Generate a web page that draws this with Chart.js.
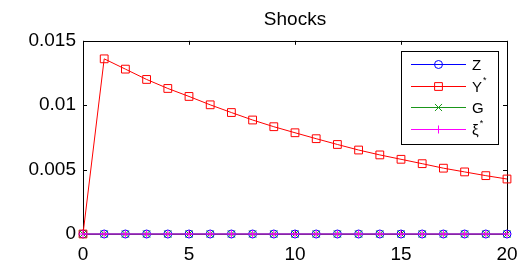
<!DOCTYPE html>
<html>
<head>
<meta charset="utf-8">
<script src="https://cdn.jsdelivr.net/npm/chart.js@4/dist/chart.umd.min.js"></script>
<style>
  html, body { margin: 0; padding: 0; background: #fff; }
  #wrap { width: 519px; height: 262px; }
</style>
</head>
<body>
<div id="wrap"><canvas id="shockChart" width="519" height="262"></canvas></div>
<script>
// periods on the x axis
const periods = [0, 1, 2, 3, 4, 5, 6, 7, 8, 9, 10, 11, 12, 13, 14, 15, 16, 17, 18, 19, 20];

// series values
const zShock    = [0, 0, 0, 0, 0, 0, 0, 0, 0, 0, 0, 0, 0, 0, 0, 0, 0, 0, 0, 0, 0];
const yStarShock = [0, 0.0136, 0.0128, 0.0120, 0.0113, 0.01068, 0.01003, 0.00943, 0.00885, 0.00833,
                    0.00786, 0.0074, 0.00695, 0.00652, 0.00614, 0.0058, 0.00546, 0.00511, 0.00482, 0.00453, 0.00427];
const gShock    = [0, 0, 0, 0, 0, 0, 0, 0, 0, 0, 0, 0, 0, 0, 0, 0, 0, 0, 0, 0, 0];
const xiStarShock = [0, 0, 0, 0, 0, 0, 0, 0, 0, 0, 0, 0, 0, 0, 0, 0, 0, 0, 0, 0, 0];

const seriesNames = ['Z', 'Y*', 'G', 'ξ*'];
const xTicks = [0, 5, 10, 15, 20];
const yTicks = [0, 0.005, 0.01, 0.015];

const FONT = '"Liberation Sans", Arial, Helvetica, sans-serif';

function toPoints(values) {
    return values.map((v, i) => ({ x: periods[i], y: v }));
}

function markerPath(ctx, style, r, x, y) {
    ctx.beginPath();
    if (style === 'circle') {
        ctx.arc(x, y, r, 0, Math.PI * 2);
    } else if (style === 'rect') {
        const s = r * Math.SQRT1_2;
        ctx.rect(x - s, y - s, 2 * s, 2 * s);
    } else if (style === 'crossRot') {
        const s = r * Math.SQRT1_2;
        ctx.moveTo(x - s, y - s); ctx.lineTo(x + s, y + s);
        ctx.moveTo(x - s, y + s); ctx.lineTo(x + s, y - s);
    } else if (style === 'cross') {
        ctx.moveTo(x - r, y); ctx.lineTo(x + r, y);
        ctx.moveTo(x, y - r); ctx.lineTo(x, y + r);
    }
    ctx.stroke();
}

// matlab style box with inward ticks, drawn under the lines
const axesBox = {
    id: 'axesBox',
    beforeDatasetsDraw(chart) {
        const { ctx, chartArea: a, scales } = chart;
        ctx.save();
        ctx.strokeStyle = '#000';
        ctx.lineWidth = 1;
        ctx.strokeRect(Math.round(a.left) + 0.5, Math.round(a.top) + 0.5,
                       Math.round(a.right - a.left), Math.round(a.bottom - a.top));
        ctx.beginPath();
        xTicks.forEach(t => {
            const px = Math.round(scales.x.getPixelForValue(t)) + 0.5;
            ctx.moveTo(px, a.bottom); ctx.lineTo(px, a.bottom - 4);
            ctx.moveTo(px, a.top); ctx.lineTo(px, a.top + 4);
        });
        yTicks.forEach(t => {
            const py = Math.round(scales.y.getPixelForValue(t)) + 0.5;
            ctx.moveTo(a.left, py); ctx.lineTo(a.left + 4, py);
            ctx.moveTo(a.right, py); ctx.lineTo(a.right - 4, py);
        });
        ctx.stroke();
        ctx.restore();
    }
};

// legend box sitting in the top right corner of the plot
const insideLegend = {
    id: 'insideLegend',
    afterDraw(chart) {
        const { ctx, chartArea: a } = chart;
        const w = 97, h = 93;
        const x0 = Math.round(a.right - 9 - w), y0 = Math.round(a.top + 10);
        ctx.save();
        ctx.fillStyle = '#fff';
        ctx.fillRect(x0, y0, w, h);
        ctx.strokeStyle = '#000';
        ctx.lineWidth = 1;
        ctx.strokeRect(x0 + 0.5, y0 + 0.5, w, h);
        chart.data.datasets.forEach((ds, i) => {
            const y = Math.round(y0 + 13 + i * 21.7) + 0.5;
            ctx.strokeStyle = ds.borderColor;
            ctx.lineWidth = 1;
            ctx.beginPath();
            ctx.moveTo(x0 + 10, y); ctx.lineTo(x0 + 65, y);
            ctx.stroke();
            markerPath(ctx, ds.pointStyle, ds.pointRadius, x0 + 37.5, y);

            const name = seriesNames[i];
            const base = name.replace('*', '');
            ctx.fillStyle = '#000';
            ctx.font = '15px ' + FONT;
            ctx.textBaseline = 'middle';
            ctx.textAlign = 'left';
            ctx.fillText(base, x0 + 71, y + 1);
            if (name.endsWith('*')) {
                const bw = ctx.measureText(base).width;
                ctx.font = '9px ' + FONT;
                ctx.fillText('*', x0 + 71 + bw + 1, y - 6);
            }
        });
        ctx.restore();
    }
};

const ctx = document.getElementById('shockChart').getContext('2d');

new Chart(ctx, {
    type: 'line',
    data: {
        datasets: [
            { label: seriesNames[0], data: toPoints(zShock), borderColor: '#0000ff',
              pointStyle: 'circle', pointRadius: 4, order: 3 },
            { label: seriesNames[1], data: toPoints(yStarShock), borderColor: '#ff0000',
              pointStyle: 'rect', pointRadius: 5.5, order: 2 },
            { label: seriesNames[2], data: toPoints(gShock), borderColor: '#1a961a',
              pointStyle: 'crossRot', pointRadius: 5, order: 1 },
            { label: seriesNames[3], data: toPoints(xiStarShock), borderColor: '#ff00ff',
              pointStyle: 'cross', pointRadius: 4, order: 0 }
        ].map(ds => Object.assign(ds, {
            borderWidth: 1,
            pointBorderColor: ds.borderColor,
            pointBackgroundColor: 'rgba(0,0,0,0)',
            pointBorderWidth: 1,
            pointHoverRadius: ds.pointRadius,
            tension: 0,
            fill: false,
            clip: false
        }))
    },
    options: {
        responsive: false,
        animation: false,
        events: [],
        layout: { padding: { left: 0, right: 12, top: 0, bottom: 0 } },
        plugins: {
            legend: { display: false },
            tooltip: { enabled: false },
            title: {
                display: true,
                text: 'Shocks',
                fullSize: false,
                color: '#000',
                font: { family: FONT, size: 19, weight: 'normal' },
                padding: { top: 8, bottom: 10 }
            }
        },
        scales: {
            x: {
                type: 'linear',
                min: 0,
                max: 20,
                afterBuildTicks: s => { s.ticks = xTicks.map(v => ({ value: v })); },
                afterFit: s => { s.height = 28; },
                grid: { display: false, drawTicks: false },
                border: { display: false },
                ticks: {
                    color: '#000',
                    padding: 0,
                    maxRotation: 0,
                    font: { family: FONT, size: 19, lineHeight: 2.2 },
                    callback: v => String(v)
                }
            },
            y: {
                type: 'linear',
                min: 0,
                max: 0.015,
                afterBuildTicks: s => { s.ticks = yTicks.map(v => ({ value: v })); },
                afterFit: s => { s.width = 83; },
                grid: { display: false, drawTicks: false },
                border: { display: false },
                ticks: {
                    color: '#000',
                    padding: 7,
                    font: { family: FONT, size: 19 },
                    callback: v => String(+Number(v).toFixed(3))
                }
            }
        }
    },
    plugins: [axesBox, insideLegend]
});
</script>
</body>
</html>
